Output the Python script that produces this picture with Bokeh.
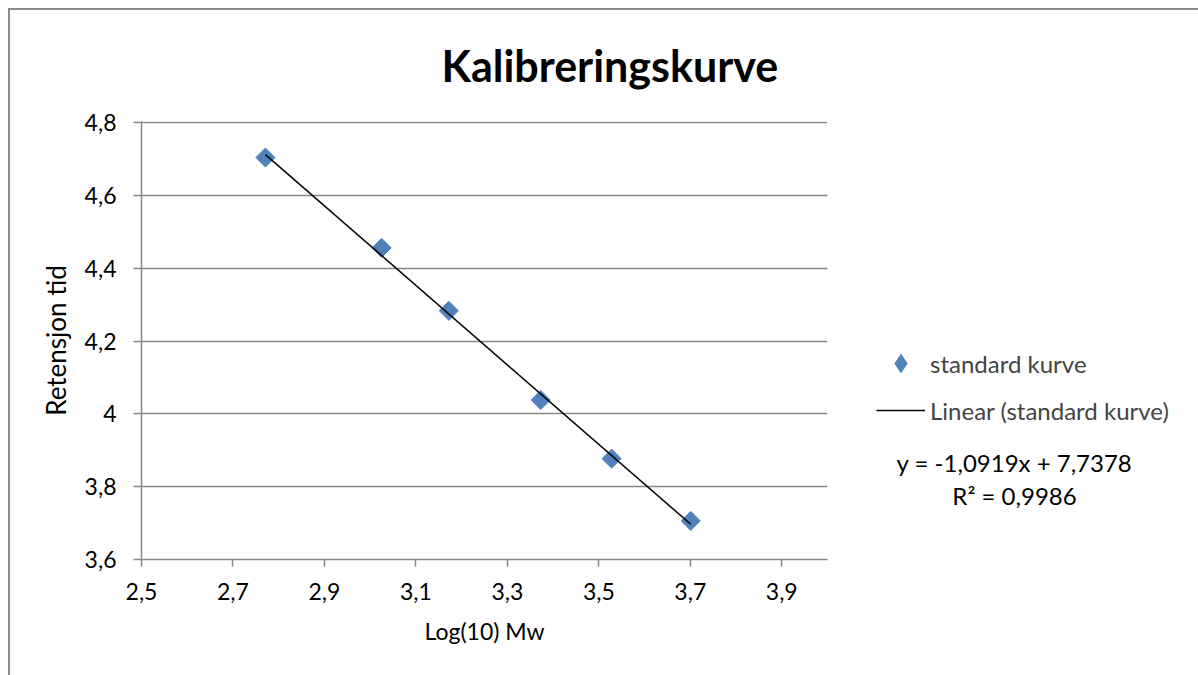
import math
from bokeh.plotting import figure
from bokeh.layouts import row
from bokeh.models import (FixedTicker, Label, Legend, LegendItem, Range1d, ColumnDataSource, Title)
from bokeh.embed import file_html
from bokeh.resources import INLINE

# ---- data ----
log_mw = [2.771, 3.025, 3.172, 3.373, 3.528, 3.701]
ret_time = [4.704, 4.456, 4.283, 4.038, 3.877, 3.706]
slope = -1.0919
intercept = 7.7378
r2 = 0.9986

x_ticks = [2.5, 2.7, 2.9, 3.1, 3.3, 3.5, 3.7, 3.9]
x_tick_labels = ["2,5", "2,7", "2,9", "3,1", "3,3", "3,5", "3,7", "3,9"]
y_ticks = [3.6, 3.8, 4.0, 4.2, 4.4, 4.6, 4.8]
y_tick_labels = ["3,6", "3,8", "4", "4,2", "4,4", "4,6", "4,8"]

title_text = "Kalibreringskurve"
x_label = "Log(10) Mw"
y_label = "Retensjon tid"
series_name = "standard kurve"
trend_name = "Linear (standard kurve)"
eq_text = "y = -1,0919x + 7,7378"
r2_text = "R² = 0,9986"

FONT = "Lato"
GREY = "#878787"
BLUE = "#4F81BD"

H = 665
MB_TOP, MB_BOTTOM = 111, 116
p = figure(width=828, height=H, output_backend="svg", toolbar_location=None,
           x_range=Range1d(2.5, 4.0), y_range=Range1d(3.6, 4.803),
           min_border_left=131, min_border_right=11,
           min_border_top=MB_TOP, min_border_bottom=MB_BOTTOM)
p.outline_line_color = None
p.background_fill_color = "white"
p.border_fill_color = "white"

# title
p.title = Title(text=title_text, align="left", offset=300, standoff=58,
                vertical_align="top",
                text_font=FONT, text_font_size="43px", text_font_style="bold",
                text_color="black")

# axes
for ax in (p.xaxis[0], p.yaxis[0]):
    ax.axis_line_color = GREY
    ax.axis_line_width = 1.5
    ax.major_tick_line_color = GREY
    ax.major_tick_line_width = 1.5
    ax.minor_tick_line_color = None
    ax.major_tick_in = 0
    ax.major_label_text_font = FONT
    ax.major_label_text_font_size = "23px"
    ax.major_label_text_color = "black"
    ax.axis_label_text_font = FONT
    ax.axis_label_text_font_style = "normal"
    ax.axis_label_text_color = "black"

p.xaxis.ticker = FixedTicker(ticks=x_ticks)
p.xaxis.major_label_overrides = dict(zip(x_ticks, x_tick_labels))
p.xaxis.major_tick_out = 7
p.xaxis.major_label_standoff = 16
p.xaxis.axis_label = x_label
p.xaxis.axis_label_text_font_size = "23px"
p.xaxis.axis_label_standoff = 14

p.yaxis.ticker = FixedTicker(ticks=y_ticks)
p.yaxis.major_label_overrides = dict(zip(y_ticks, y_tick_labels))
p.yaxis.major_tick_out = 8
p.yaxis.major_label_standoff = 17
p.yaxis.axis_label = y_label
p.yaxis.axis_label_text_font_size = "26px"
p.yaxis.axis_label_standoff = 10

p.xgrid.grid_line_color = None
p.ygrid.ticker = FixedTicker(ticks=y_ticks)
p.ygrid.grid_line_color = GREY
p.ygrid.grid_line_width = 1.5

# points
src = ColumnDataSource(dict(x=log_mw, y=ret_time))
p.scatter("x", "y", source=src, marker="square", size=13.5, angle=math.pi / 4,
          fill_color=BLUE, line_color=BLUE)

# trendline (on top of markers)
x_fit = [min(log_mw), max(log_mw)]
y_fit = [slope * x + intercept for x in x_fit]
p.line(x_fit, y_fit, line_color="black", line_width=1.5)

# ---- side panel with legend and equation (frame aligned with main frame) ----
SW = 360
FH = H - MB_TOP - MB_BOTTOM  # frame height in px
side = figure(width=SW, height=H, output_backend="svg", toolbar_location=None,
              x_range=Range1d(0, SW), y_range=Range1d(0, FH),
              x_axis_location=None, y_axis_location=None,
              min_border_left=0, min_border_right=0,
              min_border_top=MB_TOP, min_border_bottom=MB_BOTTOM)
side.outline_line_color = None
side.grid.visible = False
side.background_fill_color = "white"
side.border_fill_color = "white"

leg_src = ColumnDataSource(dict(x=log_mw, y=ret_time))
leg_pts = side.scatter("x", "y", source=leg_src, marker="diamond", size=13.5,
                       fill_color=BLUE, line_color=BLUE, visible=False)
leg_line = side.line(x_fit, y_fit, line_color="black", line_width=1.5, visible=False)

legend = Legend(items=[LegendItem(label=series_name, renderers=[leg_pts]),
                       LegendItem(label=trend_name, renderers=[leg_line])],
                location=(38, 126), orientation="vertical",
                glyph_width=49, glyph_height=46, label_height=46, spacing=1,
                label_standoff=5, padding=0, margin=0,
                label_text_font=FONT, label_text_font_size="24px",
                border_line_color=None, background_fill_alpha=0,
                inactive_fill_alpha=0, click_policy="none")
side.add_layout(legend, "center")

side.add_layout(Label(x=176, y=97, text=eq_text, text_font=FONT, text_font_size="24px",
                      text_align="center", text_baseline="middle", text_color="black"))
side.add_layout(Label(x=176, y=64, text=r2_text, text_font=FONT, text_font_size="24px",
                      text_align="center", text_baseline="middle", text_color="black"))

layout = row(p, side, styles={"border-left": "2px solid #8c8c8c",
                              "border-top": "2px solid #8c8c8c",
                              "margin-left": "8px", "margin-top": "8px"})

open("out.html", "w").write(file_html(layout, INLINE))
